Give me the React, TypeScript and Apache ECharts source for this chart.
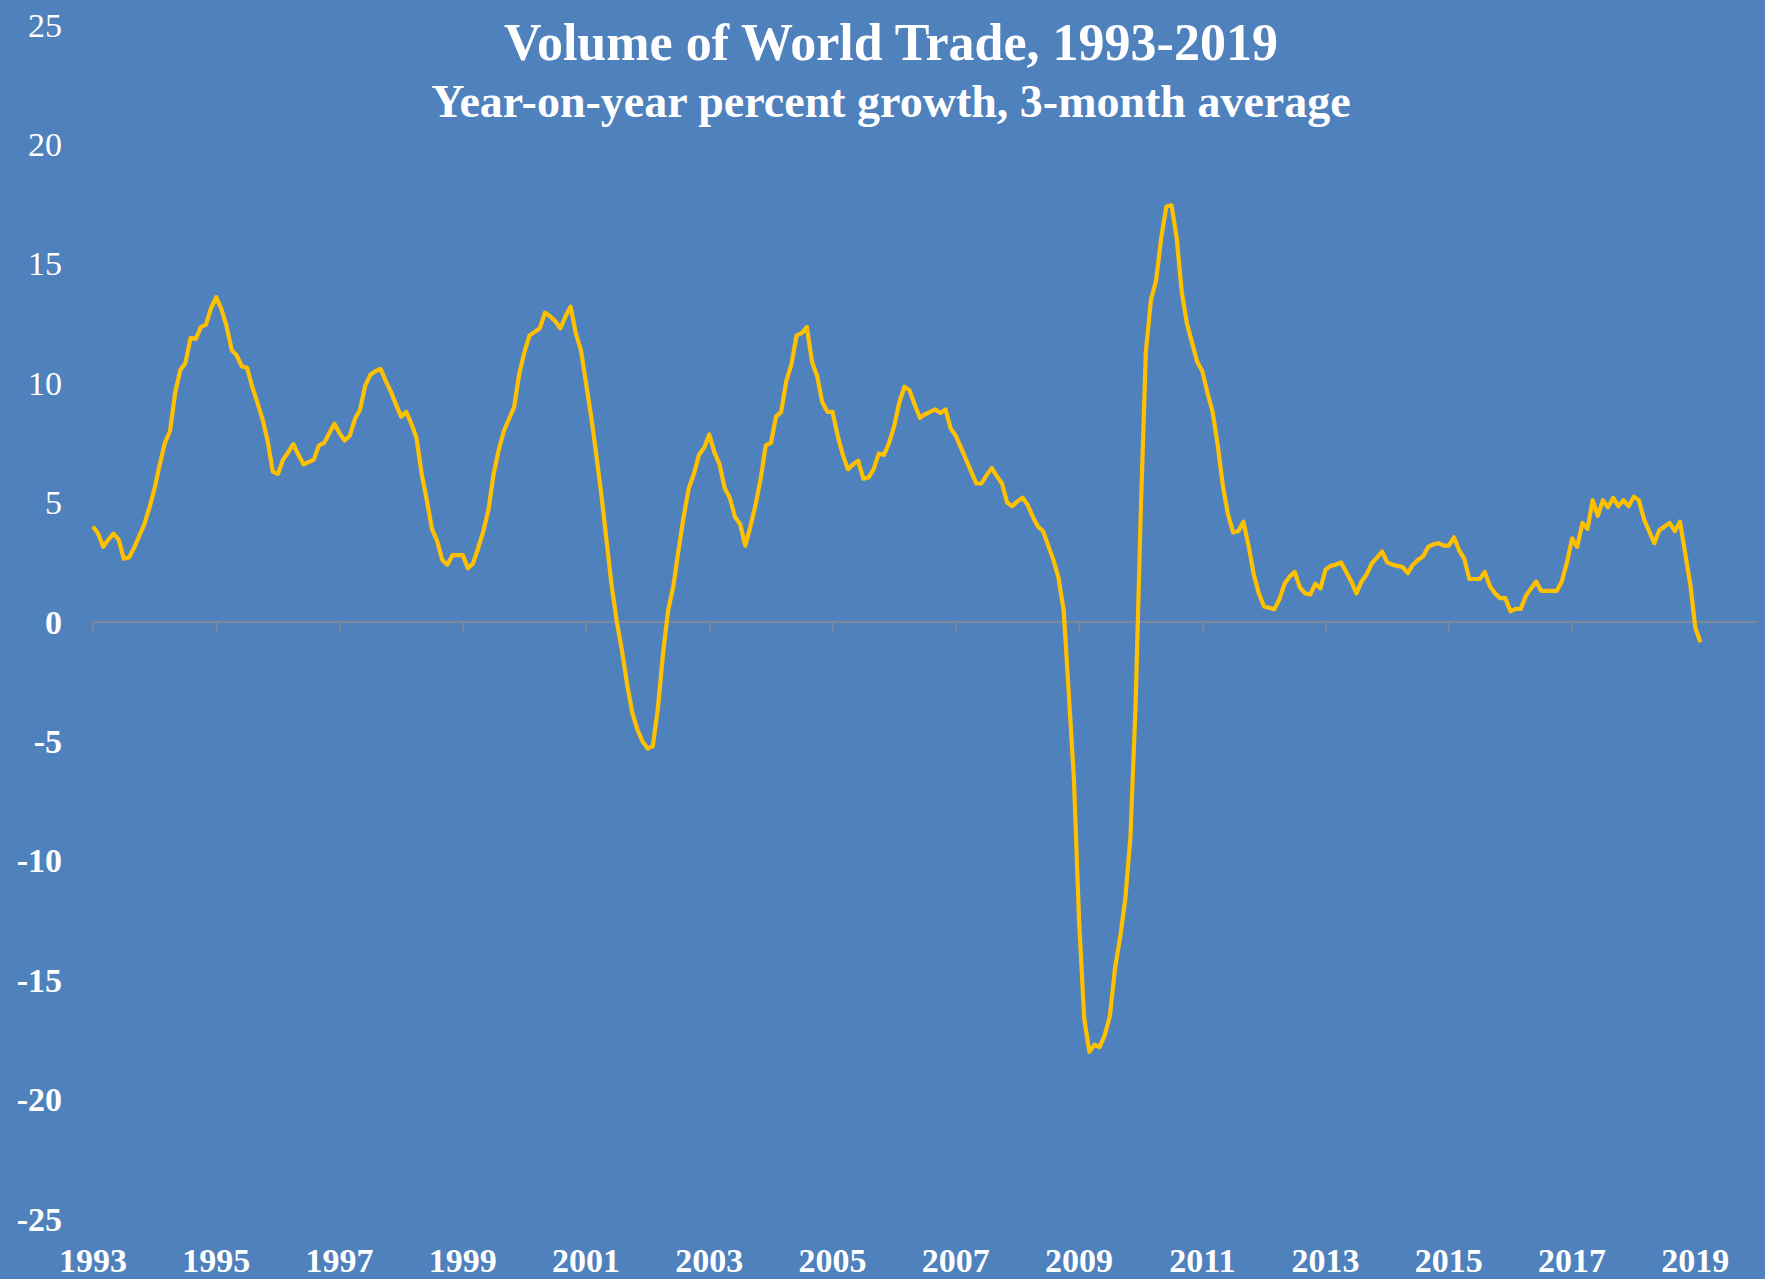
import React, { useEffect, useRef } from "react";
import * as echarts from "echarts";

const START_YEAR = 1993;
const TITLE = "Volume of World Trade, 1993-2019";
const SUBTITLE = "Year-on-year percent growth, 3-month average";

// Monthly year-on-year growth (%), 3-month average.
// Jan 1993 - Dec 1999
const growth1993to1999 = [
  4.0, 3.7, 3.15, 3.45, 3.7, 3.45, 2.65, 2.7, 3.1, 3.6, 4.1, 4.8,
  5.6, 6.6, 7.5, 8.0, 9.6, 10.55, 10.85, 11.9, 11.85, 12.35, 12.45, 13.15,
  13.6, 13.1, 12.4, 11.4, 11.15, 10.7, 10.65, 9.85, 9.2, 8.5, 7.6, 6.3,
  6.2, 6.8, 7.1, 7.45, 7.0, 6.6, 6.7, 6.8, 7.4, 7.5, 7.9, 8.3,
  7.9, 7.6, 7.8, 8.5, 8.9, 9.9, 10.35, 10.5, 10.6, 10.1, 9.65, 9.1,
  8.6, 8.8, 8.3, 7.7, 6.2, 5.1, 3.9, 3.4, 2.6, 2.4, 2.8, 2.8,
  2.8, 2.25, 2.45, 3.1, 3.8, 4.7, 6.2, 7.2, 8.0, 8.5, 9.0, 10.4,
];
// Jan 2000 - Dec 2009
const growth2000to2009 = [
  11.3, 12.0, 12.15, 12.3, 12.95, 12.8, 12.6, 12.3, 12.8, 13.2, 12.1, 11.4,
  10.0, 8.6, 7.0, 5.3, 3.4, 1.5, 0.0, -1.2, -2.6, -3.8, -4.5, -5.0,
  -5.3, -5.2, -3.6, -1.3, 0.5, 1.5, 3.0, 4.4, 5.6, 6.2, 7.0, 7.3,
  7.85, 7.1, 6.6, 5.6, 5.2, 4.4, 4.1, 3.2, 4.0, 4.9, 6.0, 7.4,
  7.5, 8.6, 8.8, 10.1, 10.8, 12.0, 12.1, 12.35, 10.9, 10.3, 9.2, 8.8,
  8.8, 7.8, 7.0, 6.4, 6.6, 6.75, 6.0, 6.05, 6.4, 7.05, 7.0, 7.5,
  8.2, 9.2, 9.85, 9.7, 9.1, 8.55, 8.7, 8.8, 8.9, 8.75, 8.9, 8.1,
  7.8, 7.3, 6.8, 6.3, 5.8, 5.8, 6.15, 6.45, 6.1, 5.8, 5.0, 4.85,
  5.05, 5.2, 4.9, 4.4, 4.0, 3.8, 3.2, 2.6, 1.85, 0.5, -3.0, -6.6,
  -12.5, -16.6, -18.0, -17.7, -17.8, -17.3, -16.5, -14.5, -13.2, -11.6, -9.0, -3.5,
];
// Jan 2010 - Feb 2019
const growth2010to2019 = [
  4.5, 11.3, 13.5, 14.3, 16.1, 17.4, 17.45, 16.1, 13.8, 12.5, 11.7, 10.9,
  10.5, 9.6, 8.8, 7.4, 5.7, 4.5, 3.75, 3.8, 4.2, 3.2, 2.0, 1.2,
  0.65, 0.6, 0.53, 0.95, 1.6, 1.9, 2.1, 1.45, 1.2, 1.15, 1.6, 1.4,
  2.2, 2.35, 2.4, 2.5, 2.1, 1.7, 1.2, 1.7, 2.0, 2.45, 2.7, 2.95,
  2.5, 2.4, 2.35, 2.3, 2.05, 2.4, 2.6, 2.75, 3.15, 3.25, 3.3, 3.2,
  3.2, 3.55, 3.0, 2.65, 1.8, 1.8, 1.8, 2.1, 1.5, 1.2, 1.0, 1.0,
  0.45, 0.55, 0.55, 1.1, 1.4, 1.7, 1.3, 1.3, 1.3, 1.3, 1.7, 2.5,
  3.5, 3.15, 4.15, 3.9, 5.1, 4.45, 5.1, 4.8, 5.2, 4.85, 5.1, 4.85,
  5.25, 5.1, 4.3, 3.8, 3.3, 3.85, 4.0, 4.15, 3.8, 4.2, 2.9, 1.6,
  -0.25, -0.85,
];

const xTickYears = [1993, 1995, 1997, 1999, 2001, 2003, 2005, 2007, 2009, 2011, 2013, 2015, 2017, 2019];
const AXIS_END_YEAR = 2020;
const Y_MIN = -25;
const Y_MAX = 25;
const Y_STEP = 5;

const FONT = '"Liberation Serif", "Times New Roman", serif';
const BG = "#4F81BD";
const LINE = "#FFC000";
const AXIS_GRAY = "#8C8C8C";

export default function App() {
  const ref = useRef<HTMLDivElement>(null);

  useEffect(() => {
    document.body.style.margin = "0";
    if (!ref.current) return;
    const chart = echarts.init(ref.current, null, { renderer: "svg" });

    const all = [...growth1993to1999, ...growth2000to2009, ...growth2010to2019];
    const points = all.map((v, i) => [i / 12, v]);
    const tickOffsets = xTickYears.map((y) => y - START_YEAR);
    const xMax = AXIS_END_YEAR - START_YEAR;

    const gridBox = { left: 93, right: 8, top: 25, bottom: 60 };

    const option: any = {
      animation: false,
      backgroundColor: BG,
      grid: [
        { ...gridBox, containLabel: false },
        { ...gridBox, containLabel: false },
      ],
      xAxis: [
        {
          type: "value",
          gridIndex: 0,
          min: 0,
          max: xMax,
          axisLine: { show: true, onZero: true, lineStyle: { color: AXIS_GRAY, width: 1.5 } },
          axisTick: {
            show: true,
            length: 9,
            inside: false,
            customValues: tickOffsets,
            lineStyle: { color: AXIS_GRAY, width: 1.5 },
          },
          axisLabel: { show: false },
          splitLine: { show: false },
        },
        {
          type: "value",
          gridIndex: 1,
          min: 0,
          max: xMax,
          position: "bottom",
          axisLine: { show: false, onZero: false },
          axisTick: { show: false },
          splitLine: { show: false },
          axisLabel: {
            show: true,
            customValues: tickOffsets,
            formatter: (v: number) => String(START_YEAR + Math.round(v)),
            color: "#ffffff",
            fontFamily: FONT,
            fontSize: 34,
            fontWeight: "bold",
            margin: 24,
          },
        },
      ],
      yAxis: [
        {
          type: "value",
          gridIndex: 0,
          min: Y_MIN,
          max: Y_MAX,
          interval: Y_STEP,
          axisLine: { show: false },
          axisTick: { show: false },
          splitLine: { show: false },
          axisLabel: {
            margin: 31,
            color: "#ffffff",
            fontFamily: FONT,
            fontSize: 34,
            formatter: (v: number) => (v > 0 ? `{r|${v}}` : `{b|${v}}`),
            rich: {
              r: { color: "#ffffff", fontFamily: FONT, fontSize: 34, fontWeight: "normal" },
              b: { color: "#ffffff", fontFamily: FONT, fontSize: 34, fontWeight: "bold" },
            },
          },
        },
        {
          type: "value",
          gridIndex: 1,
          min: Y_MIN,
          max: Y_MAX,
          show: false,
        },
      ],
      graphic: [
        {
          type: "text",
          x: 891,
          y: 42,
          style: {
            text: TITLE,
            fill: "#ffffff",
            fontFamily: FONT,
            fontSize: 52,
            fontWeight: "bold",
            align: "center",
            verticalAlign: "middle",
          },
        },
        {
          type: "text",
          x: 891,
          y: 101,
          style: {
            text: SUBTITLE,
            fill: "#ffffff",
            fontFamily: FONT,
            fontSize: 46,
            fontWeight: "bold",
            align: "center",
            verticalAlign: "middle",
          },
        },
      ],
      series: [
        {
          type: "line",
          xAxisIndex: 0,
          yAxisIndex: 0,
          data: points,
          showSymbol: false,
          symbol: "none",
          lineStyle: { color: LINE, width: 4.2, join: "round" },
          z: 3,
        },
      ],
    };

    chart.setOption(option);
    return () => chart.dispose();
  }, []);

  return (
    <div
      ref={ref}
      style={{ position: "absolute", left: 0, top: 0, width: 1765, height: 1279, background: BG }}
    />
  );
}
